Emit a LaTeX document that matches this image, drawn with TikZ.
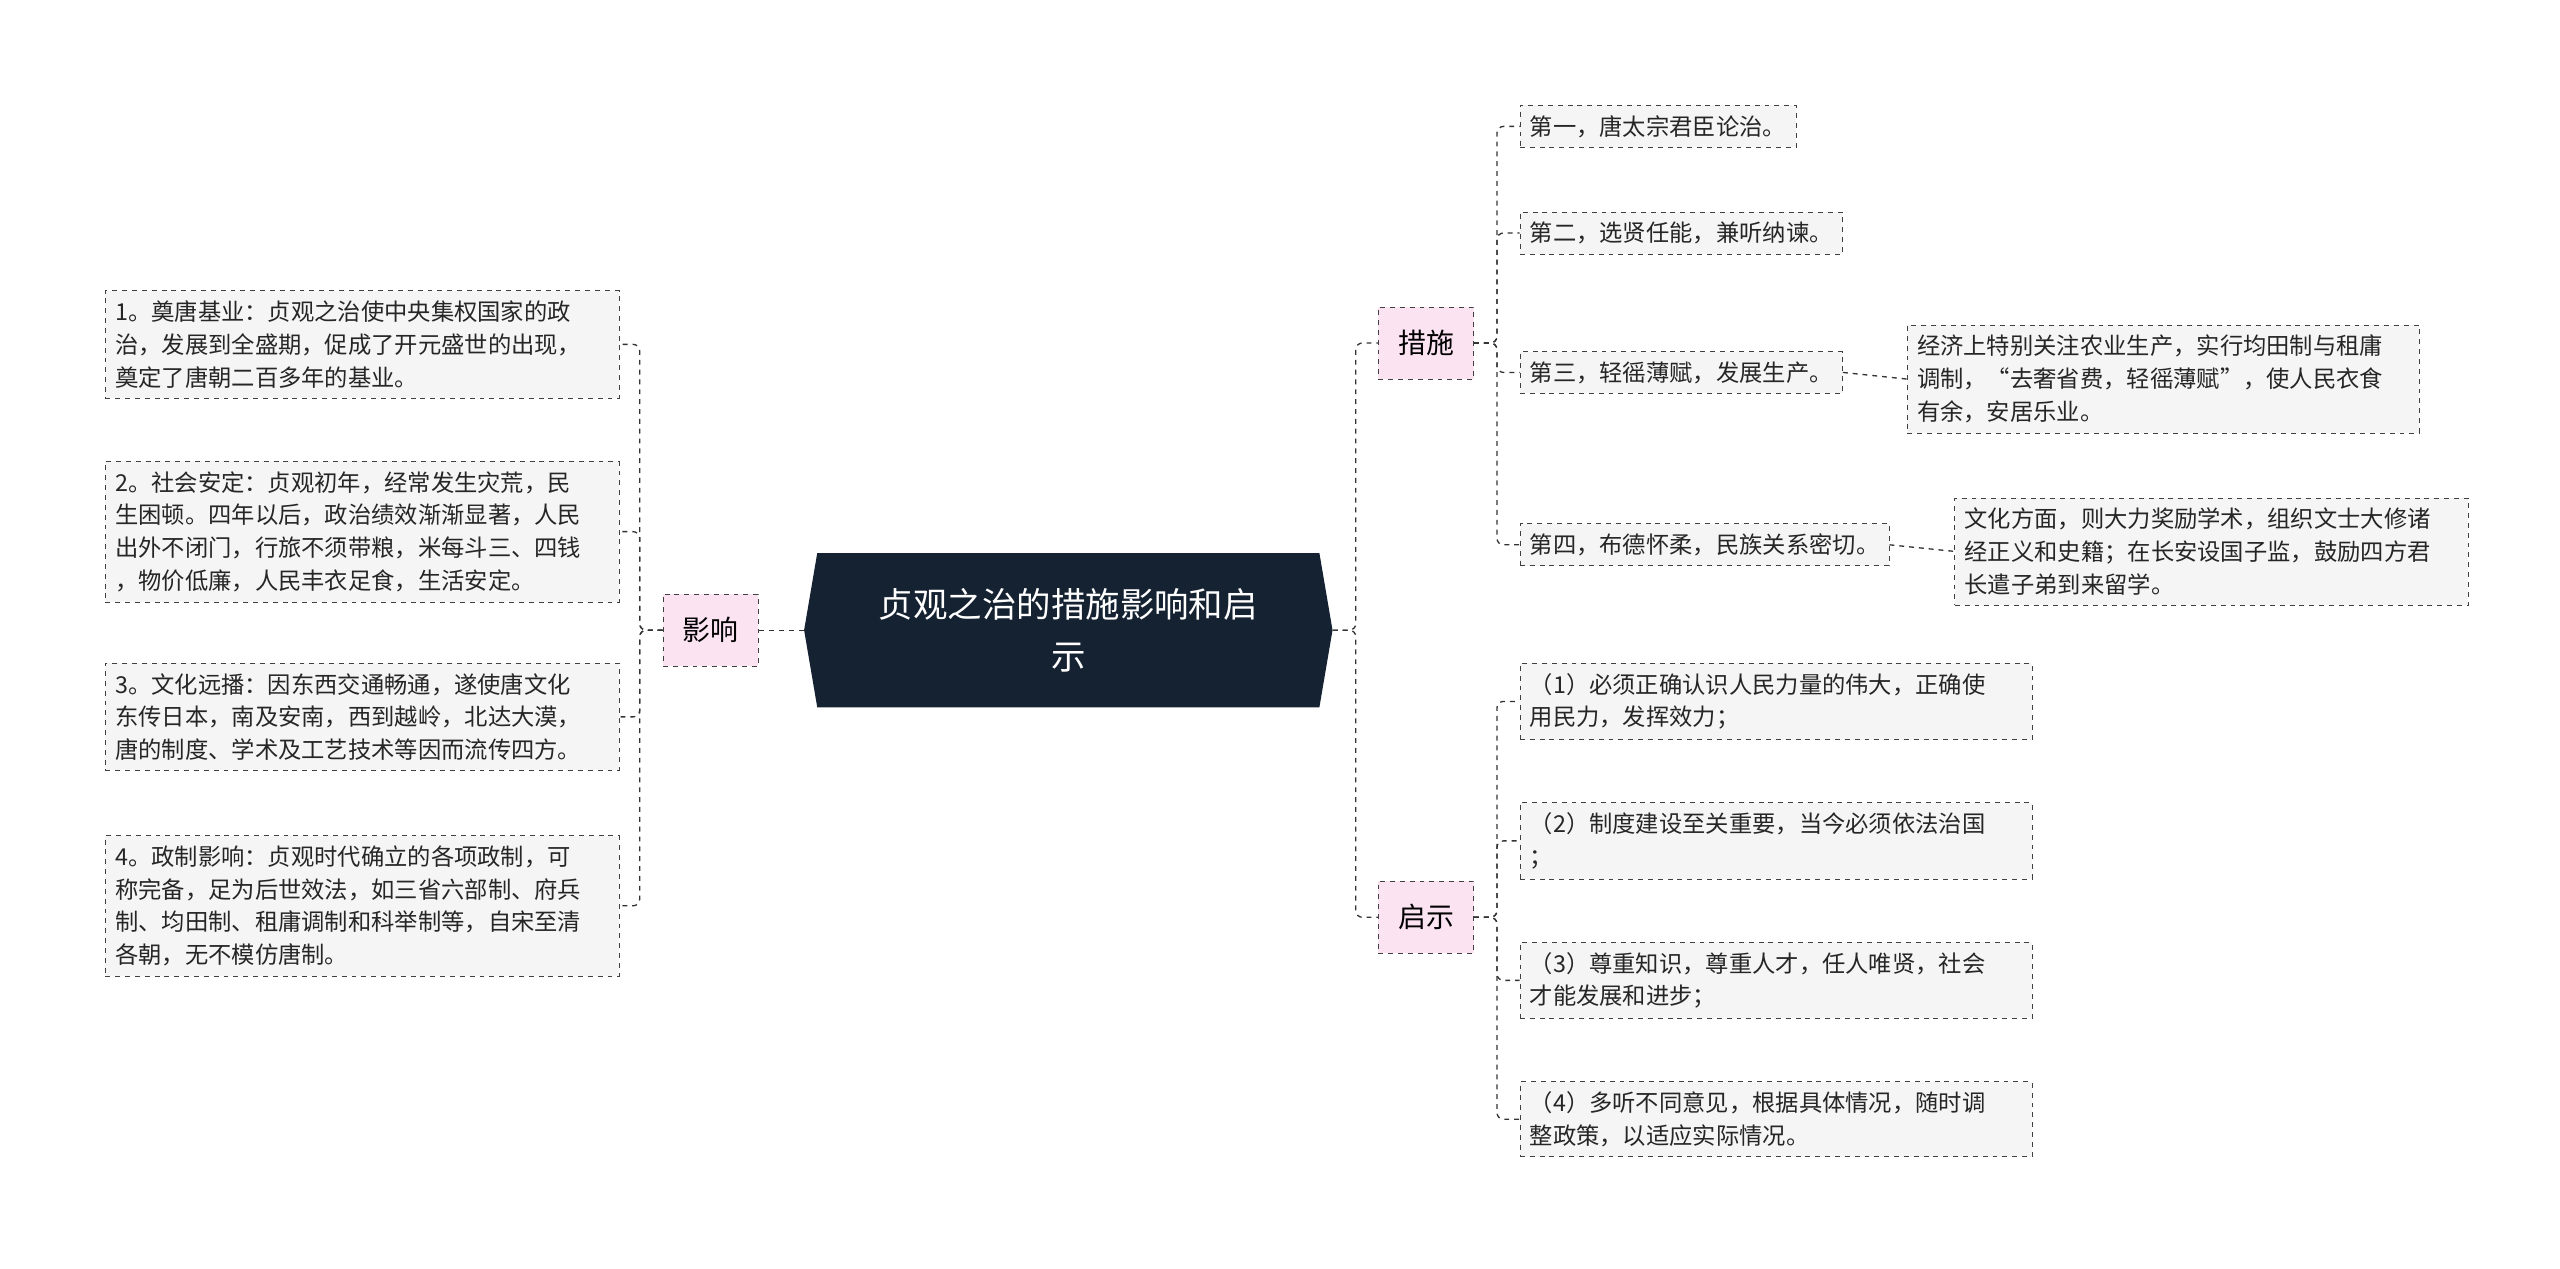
\documentclass[tikz,border=0pt]{standalone}
\usepackage{fontspec}
\setmainfont{Noto Sans CJK SC}
\definecolor{dark}{HTML}{152232}
\definecolor{pinkf}{HTML}{FBE3F1}
\begin{document}
\begin{tikzpicture}[x=1pt,y=-1pt,
 leaf/.style={draw=black!75,dashed,fill=black!4,align=left,font=\fontsize{14.2}{20}\selectfont,text=black!85,inner sep=6pt,anchor=north west},
 cat/.style={draw=black!75,dashed,fill=pinkf,font=\fontsize{17}{20}\selectfont,minimum width=58,minimum height=44,inner sep=2pt},
 con/.style={draw=black!80,dashed,line width=0.8pt}]
\useasboundingbox (0,0) rectangle (1560,773);
\fill[dark] (498,337) -- (804,337) -- (812,384) -- (804,431) -- (498,431) -- (490,384) -- cycle;
\node[text=white,align=center,font=\fontsize{21}{32}\selectfont,minimum width=322,minimum height=94,inner sep=0pt] (c) at (651,384) {贞观之治的措施影响和启\\示};
\node[cat] (y) at (433,384) {影响};
\node[cat] (cs) at (869,209) {措施};
\node[cat] (qs) at (869,559) {启示};
\node[leaf,text width=301] (l1) at (64,177) {1。奠唐基业：贞观之治使中央集权国家的政\\治，发展到全盛期，促成了开元盛世的出现，\\奠定了唐朝二百多年的基业。};
\node[leaf,text width=301] (l2) at (64,281) {2。社会安定：贞观初年，经常发生灾荒，民\\生困顿。四年以后，政治绩效渐渐显著，人民\\出外不闭门，行旅不须带粮，米每斗三、四钱\\，物价低廉，人民丰衣足食，生活安定。};
\node[leaf,text width=301] (l3) at (64,404) {3。文化远播：因东西交通畅通，遂使唐文化\\东传日本，南及安南，西到越岭，北达大漠，\\唐的制度、学术及工艺技术等因而流传四方。};
\node[leaf,text width=301] (l4) at (64,509) {4。政制影响：贞观时代确立的各项政制，可\\称完备，足为后世效法，如三省六部制、府兵\\制、均田制、租庸调制和科举制等，自宋至清\\各朝，无不模仿唐制。};
\node[leaf] (a1) at (926,64) {第一，唐太宗君臣论治。};
\node[leaf] (a2) at (926,129) {第二，选贤任能，兼听纳谏。};
\node[leaf] (a3) at (926,214) {第三，轻徭薄赋，发展生产。};
\node[leaf] (a4) at (926,319) {第四，布德怀柔，民族关系密切。};
\node[leaf,text width=300,anchor=west] (b3) at (1162,231) {经济上特别关注农业生产，实行均田制与租庸\\调制，“去奢省费，轻徭薄赋”，使人民衣食\\有余，安居乐业。};
\node[leaf,text width=301,anchor=west] (b4) at (1191,336) {文化方面，则大力奖励学术，组织文士大修诸\\经正义和史籍；在长安设国子监，鼓励四方君\\长遣子弟到来留学。};
\node[leaf,text width=300] (q1) at (926,404) {（1）必须正确认识人民力量的伟大，正确使\\用民力，发挥效力；};
\node[leaf,text width=300] (q2) at (926,489) {（2）制度建设至关重要，当今必须依法治国\\；};
\node[leaf,text width=300] (q3) at (926,574) {（3）尊重知识，尊重人才，任人唯贤，社会\\才能发展和进步；};
\node[leaf,text width=300] (q4) at (926,659) {（4）多听不同意见，根据具体情况，随时调\\整政策，以适应实际情况。};
\draw[con] (c.west) -- (y.east);
\foreach \n in {l1,l2,l3,l4} \draw[con,rounded corners=4] (y.west) -- ++(-14,0) |- (\n.east);
\foreach \n in {cs,qs} \draw[con,rounded corners=4] (c.east) -- ++(14,0) |- (\n.west);
\foreach \n in {a1,a2,a3,a4} \draw[con,rounded corners=4] (cs.east) -- ++(14,0) |- (\n.west);
\foreach \n in {q1,q2,q3,q4} \draw[con,rounded corners=4] (qs.east) -- ++(14,0) |- (\n.west);
\draw[con] (a3.east) -- (b3.west);
\draw[con] (a4.east) -- (b4.west);
\end{tikzpicture}
\end{document}
